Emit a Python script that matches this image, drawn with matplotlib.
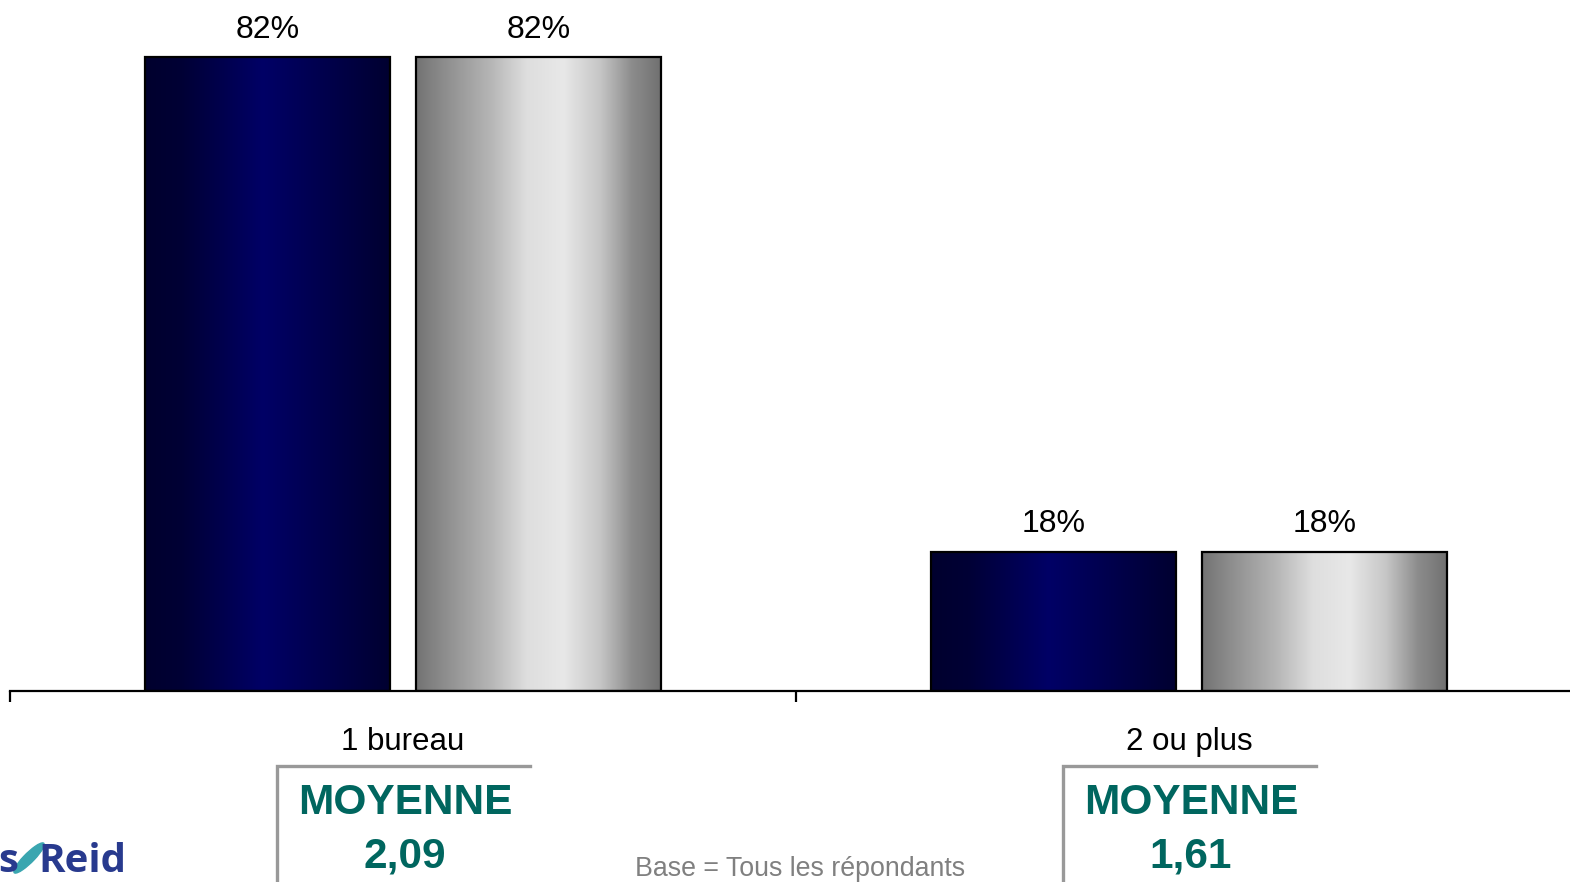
import numpy as np
import matplotlib.pyplot as plt
import matplotlib.transforms as mtransforms
from matplotlib.colors import LinearSegmentedColormap
from matplotlib.patches import Ellipse

plt.rcParams['font.family'] = ['Liberation Sans', 'DejaVu Sans']

# Données
categories = ['1 bureau', '2 ou plus']
serie_a = [82, 18]
serie_b = [82, 18]
moyennes = ['2,09', '1,61']

W, H = 1570, 882
fig = plt.figure(figsize=(W / 100, H / 100), dpi=100)
# axes : bas à y=691px, gauche à x=10px, une catégorie = 786px
ax = fig.add_axes([10 / W, (H - 691) / H, 2 * 786 / W, 691 / H])

x = np.arange(len(categories))
width = 0.312
off = 0.1724

# Dégradés
cmap_bleu = LinearSegmentedColormap.from_list(
    'bleu', [(0, '#00002e'), (0.15, '#000035'), (0.48, '#000066'), (0.85, '#000040'), (1, '#000030')])
cmap_gris = LinearSegmentedColormap.from_list(
    'gris', [(0, '#737373'), (0.1, '#8a8a8a'), (0.3, '#b5b5b5'), (0.45, '#dedede'),
             (0.6, '#e8e8e8'), (0.75, '#c6c6c6'), (0.88, '#8c8c8c'), (1, '#707070')])
grad = np.linspace(0, 1, 256).reshape(1, -1)

bars_a = ax.bar(x - off, serie_a, width, facecolor='none', edgecolor='black', linewidth=1.6, zorder=3)
bars_b = ax.bar(x + off, serie_b, width, facecolor='none', edgecolor='black', linewidth=1.6, zorder=3)

for bars, cm in [(bars_a, cmap_bleu), (bars_b, cmap_gris)]:
    for p in bars:
        im = ax.imshow(grad, cmap=cm, aspect='auto', zorder=2,
                       extent=(p.get_x(), p.get_x() + p.get_width(), 0, p.get_height()))
        im.set_clip_path(p)

ax.set_xlim(-0.5, 1.5)
ax.set_ylim(0, 89.4)

ax.bar_label(bars_a, labels=[f'{v}%' for v in serie_a], padding=9, fontsize=23)
ax.bar_label(bars_b, labels=[f'{v}%' for v in serie_b], padding=9, fontsize=23)

for s in ['top', 'right', 'left']:
    ax.spines[s].set_visible(False)
ax.spines['bottom'].set_linewidth(1.6)
ax.set_yticks([])
ax.set_xticks([-0.5, 0.5, 1.5])
ax.set_xticklabels([])
ax.tick_params(axis='x', which='major', length=8, width=1.6, direction='out')
ax.set_xticks(x, minor=True)
ax.set_xticklabels(categories, minor=True, fontsize=22.5)
ax.tick_params(axis='x', which='minor', length=0, pad=26)

# Cadres MOYENNE
tr = mtransforms.blended_transform_factory(ax.transData, fig.transFigure)
y_top = (H - 766) / H
for i, m in enumerate(moyennes):
    x0 = x[i] - 0.16
    x1 = x[i] + 0.162
    ax.plot([x1, x0, x0], [y_top, y_top, 0], transform=tr, color='#999999',
            linewidth=2.4, clip_on=False, solid_joinstyle='miter')
    ax.text(x[i] + 0.003, (H - 803) / H, 'MOYENNE', transform=tr, ha='center', va='center',
            fontsize=30.5, fontweight='bold', color='#00665f')
    ax.text(x[i] + 0.002, (H - 857) / H, m, transform=tr, ha='center', va='center',
            fontsize=30.5, fontweight='bold', color='#00665f')

fig.text(800 / W, (H - 869) / H, 'Base = Tous les répondants', ha='center', va='center',
         fontsize=19.3, color='#808080')

# Logo (partiel)
fig.text(-2 / W, (H - 861) / H, 's', ha='left', va='center', fontsize=29,
         fontweight='bold', color='#283a8e', family='Open Sans')
leaf = Ellipse((29 / W, (H - 858) / H), 12 / W, 34 / H, angle=-28,
               transform=fig.transFigure, color='#3aa6b0')
fig.patches.append(leaf)
fig.text(38 / W, (H - 861) / H, 'Reid', ha='left', va='center', fontsize=29,
         fontweight='bold', color='#283a8e', family='Open Sans')

fig.savefig('out.png', dpi=100)
